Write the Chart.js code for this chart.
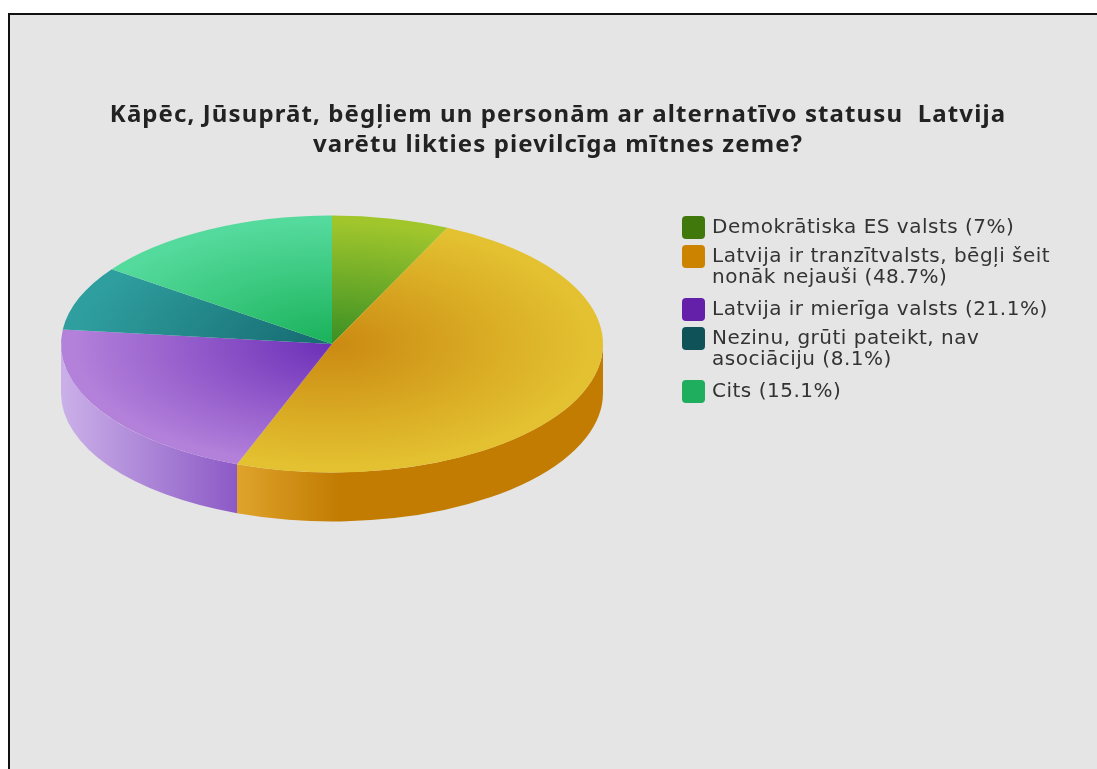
<!DOCTYPE html>
<html lang="lv">
<head>
<meta charset="utf-8">
<title>Latvija</title>
<script src="https://cdn.jsdelivr.net/npm/chart.js@4"></script>
<style>
  html, body { margin: 0; height: 100%; background: #fff; overflow: hidden; }
  #frame { position: absolute; left: 8px; top: 13px; width: 1100px; height: 770px; background: #e5e5e5; border: 2px solid #111; }
  #plot { position: absolute; left: 0; top: 0; width: 1097px; height: 769px; }
  #titulo { position: absolute; left: 58px; top: 98px; width: 1000px; text-align: center; font: 700 24px/30px "Noto Sans", sans-serif; letter-spacing: 1.1px; color: #222; white-space: pre; }
  #legenda { position: absolute; left: 682px; top: 216px; width: 415px; font: 20px/21px "DejaVu Sans", sans-serif; letter-spacing: 0.5px; color: #333; }
  .linha { display: flex; padding-bottom: 6px; }
  .linha.dupla { padding-bottom: 11px; }
  .cor { flex: none; width: 23px; height: 23px; border-radius: 4px; margin-right: 7px; }
  .texto { white-space: pre; }
</style>
</head>
<body>
<div id="frame"></div>
<div id="plot"><canvas id="grafico"></canvas></div>
<div id="titulo"></div>
<div id="legenda"></div>
<script>
// Dados
const titulo = [
  'Kāpēc, Jūsuprāt, bēgļiem un personām ar alternatīvo statusu  Latvija',
  'varētu likties pievilcīga mītnes zeme?',
];
const categorias = [
  'Demokrātiska ES valsts',
  'Latvija ir tranzītvalsts, bēgļi šeit\nnonāk nejauši',
  'Latvija ir mierīga valsts',
  'Nezinu, grūti pateikt, nav\nasociāciju',
  'Cits',
];
const valores = [7, 48.7, 21.1, 8.1, 15.1];
const coresLegenda = ['#40780c', '#cc8400', '#6420a8', '#0f5258', '#1fae5e'];
const coresCentro = ['#3a8f24', '#cb8a12', '#6c2fb8', '#156a70', '#1ab25a'];
const coresBorda = ['#a0c62c', '#e3c130', '#b380da', '#2f9e9e', '#54da9c'];

// Perspectiva da pizza
const achatamento = 0.474;
const profundidade = 49;

// Preenche o título e a legenda
document.getElementById('titulo').textContent = titulo.join('\n');
const legenda = document.getElementById('legenda');
categorias.forEach((nome, i) => {
  const linha = document.createElement('div');
  linha.className = nome.includes('\n') ? 'linha dupla' : 'linha';
  const cor = document.createElement('div');
  cor.className = 'cor';
  cor.style.background = coresLegenda[i];
  const texto = document.createElement('div');
  texto.className = 'texto';
  texto.textContent = `${nome} (${valores[i]}%)`;
  linha.append(cor, texto);
  legenda.appendChild(linha);
});

// Gradiente radial de cada fatia (vira elipse com o achatamento)
function corFatia(context) {
  const i = context.dataIndex;
  const area = context.chart.chartArea;
  if (!area) return coresBorda[i];
  const x = (area.left + area.right) / 2;
  const y = (area.top + area.bottom) / 2;
  const g = context.chart.ctx.createRadialGradient(x, y, 0, x, y, (area.right - area.left) / 2);
  g.addColorStop(0, coresCentro[i]);
  g.addColorStop(0.95, coresBorda[i]);
  g.addColorStop(1, coresBorda[i]);
  return g;
}

// Parede lateral: usa os ângulos dos arcos do próprio Chart.js
function corParede(ctx, i, x0, x1) {
  const g = ctx.createLinearGradient(x0, 0, x1, 0);
  if (i === 1) {
    g.addColorStop(0, '#dfa32c');
    g.addColorStop(0.28, '#c27c02');
    g.addColorStop(1, '#c27c02');
  } else {
    g.addColorStop(0, '#cbb0e8');
    g.addColorStop(1, '#8c5ac6');
  }
  return g;
}

const pizza3d = {
  id: 'pizza3d',
  beforeDatasetsDraw(chart) {
    const ctx = chart.ctx;
    const arcos = chart.getDatasetMeta(0).data;
    const { x, y, outerRadius } = arcos[0];
    const ry = outerRadius * achatamento;
    ctx.save();
    arcos.forEach((arco, i) => {
      const ini = Math.max(arco.startAngle, 0);
      const fim = Math.min(arco.endAngle, Math.PI);
      if (fim <= ini) return;
      const x0 = x + outerRadius * Math.cos(fim);
      const x1 = x + outerRadius * Math.cos(ini);
      ctx.beginPath();
      ctx.ellipse(x, y, outerRadius, ry, 0, ini, fim);
      ctx.ellipse(x, y + profundidade, outerRadius, ry, 0, fim, ini, true);
      ctx.closePath();
      ctx.fillStyle = corParede(ctx, i, x0, x1);
      ctx.fill();
    });
    ctx.restore();
    // achata as fatias desenhadas a seguir
    ctx.save();
    ctx.translate(x, y);
    ctx.scale(1, achatamento);
    ctx.translate(-x, -y);
  },
  afterDatasetsDraw(chart) {
    chart.ctx.restore();
  },
};

new Chart(document.getElementById('grafico').getContext('2d'), {
  type: 'pie',
  data: {
    labels: categorias,
    datasets: [{
      data: valores,
      backgroundColor: corFatia,
      borderWidth: 0,
      clip: false,
    }],
  },
  options: {
    responsive: true,
    maintainAspectRatio: false,
    animation: false,
    events: [],
    layout: { padding: { left: 61, right: 494, top: 73, bottom: 154 } },
    plugins: {
      legend: { display: false },
      title: { display: false },
      tooltip: { enabled: false },
    },
  },
  plugins: [pizza3d],
});
</script>
</body>
</html>
